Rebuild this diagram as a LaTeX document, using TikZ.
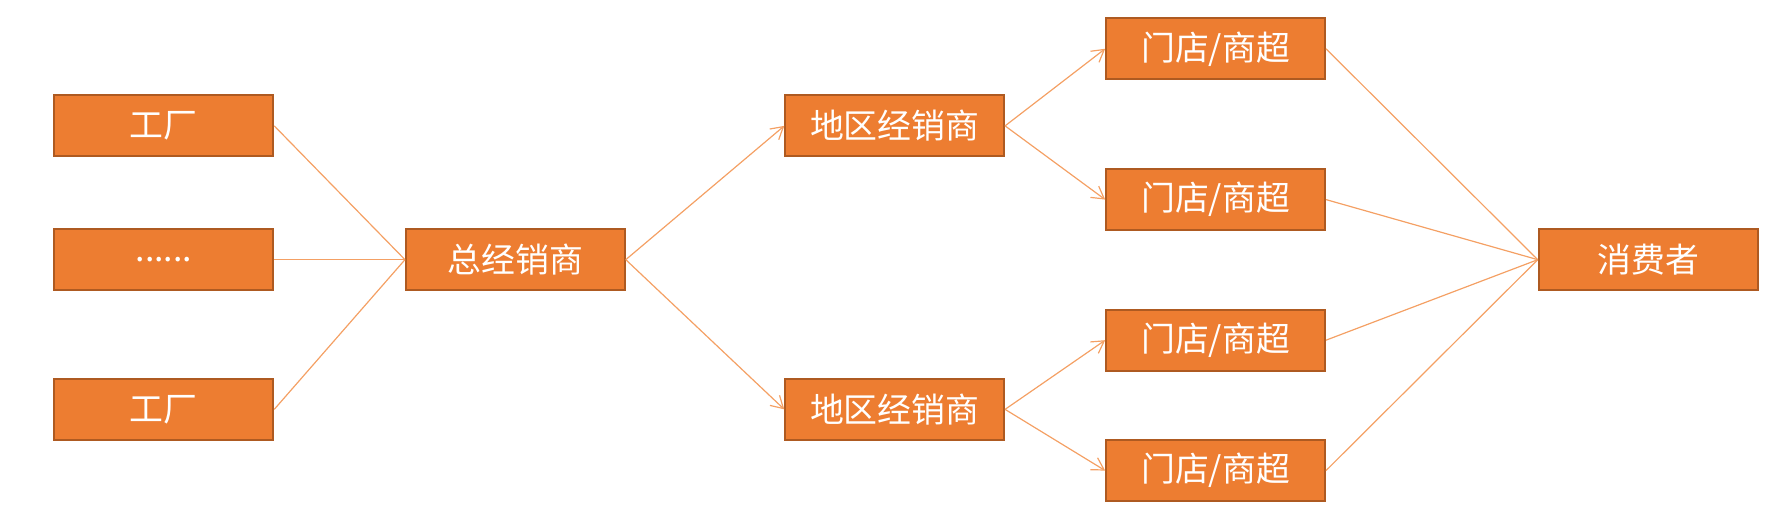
\documentclass[tikz,border=0pt]{standalone}
\usepackage{fontspec}
\newfontfamily\cjk{Noto Sans CJK SC}
\usetikzlibrary{arrows.meta}
\definecolor{boxfill}{HTML}{ED7D31}
\definecolor{boxline}{HTML}{AE5A21}
\definecolor{linkline}{HTML}{F4A064}
\begin{document}
\begin{tikzpicture}[x = 0.02cm, y = -0.02cm]
    \tikzset{box/.style = {draw = boxline, line width = 1pt, fill = boxfill, minimum width = 3.86cm, minimum height = 1.08cm, inner sep = 0pt, text = white, font = \cjk\fontsize{17}{20}\selectfont},
        link/.style = {draw = linkline, line width = 0.6pt},
        arrow/.style = {link, -{Straight Barb[length = 6pt, width = 7pt]}}}
    \useasboundingbox (0,0) rectangle (1568,468);
    \node[box] (f1) at (144.5,111) {工厂};
    \node[box] (f2) at (144.5,229) {......};
    \node[box] (f3) at (144.5,361) {工厂};
    \node[box] (gd) at (454.5,229) {总经销商};
    \node[box] (r1) at (789,111) {地区经销商};
    \node[box] (r2) at (789,361) {地区经销商};
    \node[box] (s1) at (1072,43) {门店/商超};
    \node[box] (s2) at (1072,176) {门店/商超};
    \node[box] (s3) at (1072,300) {门店/商超};
    \node[box] (s4) at (1072,415) {门店/商超};
    \node[box] (c) at (1453.5,229) {消费者};
    \draw[link] (f1.east) -- (gd.west);
    \draw[link] (f2.east) -- (gd.west);
    \draw[link] (f3.east) -- (gd.west);
    \draw[arrow] (gd.east) -- (r1.west);
    \draw[arrow] (gd.east) -- (r2.west);
    \draw[arrow] (r1.east) -- (s1.west);
    \draw[arrow] (r1.east) -- (s2.west);
    \draw[arrow] (r2.east) -- (s3.west);
    \draw[arrow] (r2.east) -- (s4.west);
    \draw[link] (s1.east) -- (c.west);
    \draw[link] (s2.east) -- (c.west);
    \draw[link] (s3.east) -- (c.west);
    \draw[link] (s4.east) -- (c.west);
\end{tikzpicture}
\end{document}
